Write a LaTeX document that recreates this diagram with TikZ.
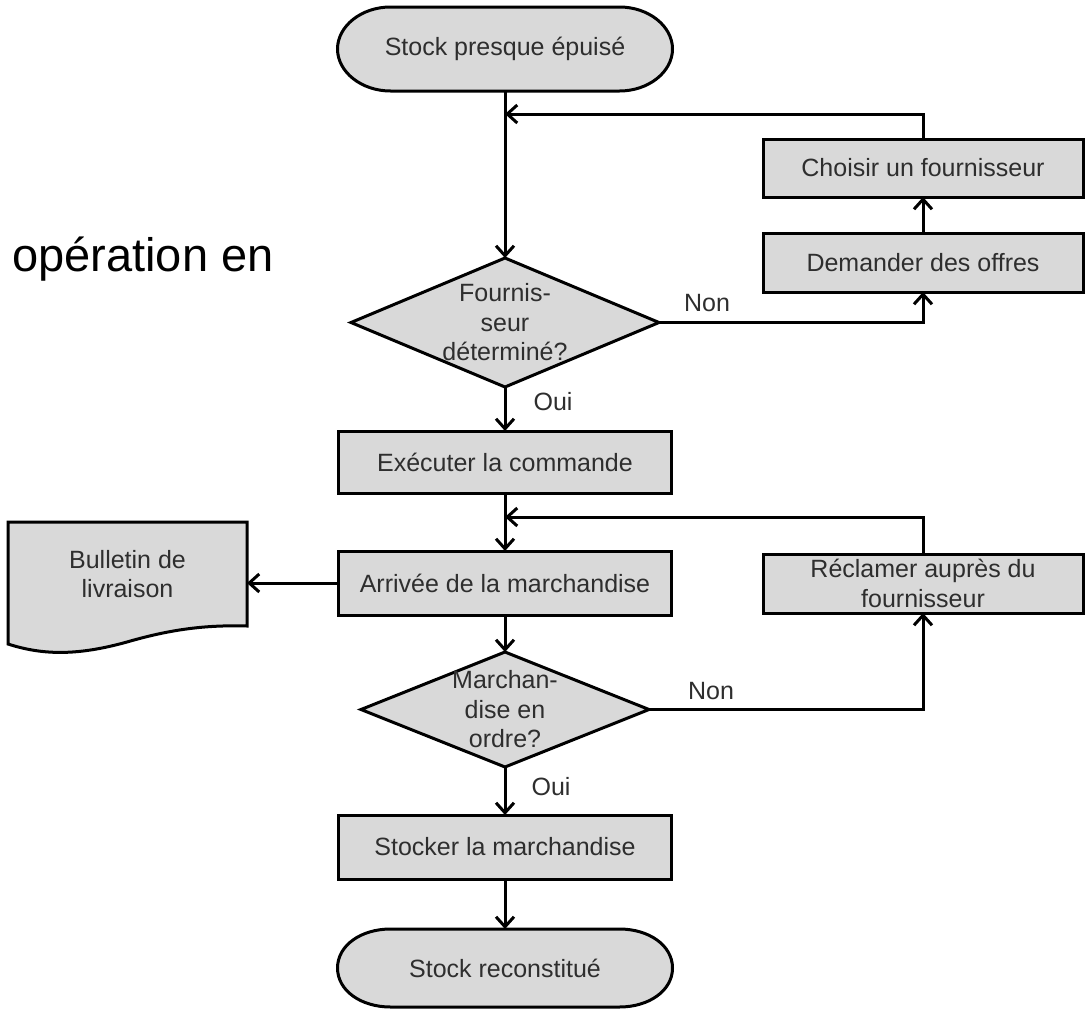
\documentclass[tikz,border=0pt]{standalone}
\usepackage{fontspec}
\setmainfont{Liberation Sans}
\usetikzlibrary{arrows.meta,calc,backgrounds}
\definecolor{txt}{HTML}{2E2E2E}
\definecolor{boxfill}{HTML}{D9D9D9}
\newcommand\termshape[1]{%
  \draw[shapeline] ($(#1.north west)+(53,0)$) -- ($(#1.north east)+(-53,0)$)
    .. controls ($(#1.north east)+(-24,0)$) and ($(#1.east)+(0,-23)$) .. (#1.east)
    .. controls ($(#1.east)+(0,23)$) and ($(#1.south east)+(-24,0)$) .. ($(#1.south east)+(-53,0)$)
    -- ($(#1.south west)+(53,0)$)
    .. controls ($(#1.south west)+(24,0)$) and ($(#1.west)+(0,23)$) .. (#1.west)
    .. controls ($(#1.west)+(0,-23)$) and ($(#1.north west)+(24,0)$) .. cycle;}
\begin{document}
\begin{tikzpicture}[x=1pt,y=-1pt,
  font=\fontsize{25}{29.5}\selectfont,
  procbox/.style={draw=black, fill=boxfill, line width=3pt, inner sep=0pt, outer sep=0pt,
    text=txt, align=center},
  plain/.style={draw=none, inner sep=0pt, outer sep=0pt, text=txt, align=center},
  shapeline/.style={draw=black, fill=boxfill, line width=3pt},
  flow/.style={line width=3pt, -{Straight Barb[length=10pt,width=18pt]}},
  lbl/.style={inner sep=0pt, text=txt}]
\useasboundingbox (0,0) rectangle (1086,1009);
\begin{scope}[on background layer]
  \fill[white] (0,0) rectangle (1086,1009);
\end{scope}

% free text
\node[anchor=base west, inner sep=0pt, font=\fontsize{47}{56}\selectfont] (op) at (12,271) {opération en};

% nodes
\node[plain, minimum width=335pt, minimum height=84pt] (debut) at (505,49) {Stock presque épuisé};
\node[procbox, minimum width=320pt, minimum height=58pt] (choisir) at (923,168) {Choisir un fournisseur};
\node[procbox, minimum width=320pt, minimum height=59pt] (demander) at (923,262.5) {Demander des offres};
\node[plain, minimum width=308pt, minimum height=129pt] (d1) at (505,322.5) {Fournis-\\seur\\déterminé?};
\node[procbox, minimum width=333pt, minimum height=62pt] (exec) at (505,462) {Exécuter la commande};
\node[procbox, minimum width=333pt, minimum height=64pt] (arriv) at (505,583) {Arrivée de la marchandise};
\node[procbox, minimum width=320pt, minimum height=59pt] (reclamer) at (923,583.5) {Réclamer auprès du\\fournisseur};
\node[plain, minimum width=239pt, minimum height=104pt] (bul) at (127.5,574) {Bulletin de\\livraison};
\node[plain, minimum width=288pt, minimum height=115pt] (d2) at (505,709.5) {Marchan-\\dise en\\ordre?};
\node[procbox, minimum width=333pt, minimum height=64pt] (stock) at (505,847) {Stocker la marchandise};
\node[plain, minimum width=335pt, minimum height=78pt] (fin) at (505,968) {Stock reconstitué};

\coordinate (m1) at (505,114);
\coordinate (m2) at (505,517);

% shapes behind text
\begin{scope}[on background layer]
  \termshape{debut}
  \termshape{fin}
  \draw[shapeline] (d1.north) -- (d1.east) -- (d1.south) -- (d1.west) -- cycle;
  \draw[shapeline] (d2.north) -- (d2.east) -- (d2.south) -- (d2.west) -- cycle;
  \draw[shapeline] (bul.south east) -- (bul.north east) -- (bul.north west)
    -- ($(bul.south west)+(0,18)$)
    .. controls ($(bul.south west)+(37,30)$) and ($(bul.south west)+(72,29)$) .. ($(bul.south west)+(119,16)$)
    .. controls ($(bul.south west)+(167,2)$) and ($(bul.south west)+(202,-1)$) .. (bul.south east) -- cycle;
\end{scope}

% labels
\node[lbl] (non1) at (707,303) {Non};
\node[lbl] (oui1) at (553,402) {Oui};
\node[lbl] (non2) at (711,691.5) {Non};
\node[lbl] (oui2) at (551,786.5) {Oui};

% connectors
\draw[flow] (debut.south) -- (d1.north);
\draw[flow] (d1.east) -| (demander.south);
\draw[flow] (demander.north) -- (choisir.south);
\draw[flow] (choisir.north) |- (m1);
\draw[flow] (d1.south) -- (exec.north);
\draw[flow] (exec.south) -- (arriv.north);
\draw[flow] (reclamer.north) |- (m2);
\draw[flow] (arriv.west) -- (arriv.west -| bul.east);
\draw[flow] (arriv.south) -- (d2.north);
\draw[flow] (d2.east) -| (reclamer.south);
\draw[flow] (d2.south) -- (stock.north);
\draw[flow] (stock.south) -- (fin.north);
\end{tikzpicture}
\end{document}
